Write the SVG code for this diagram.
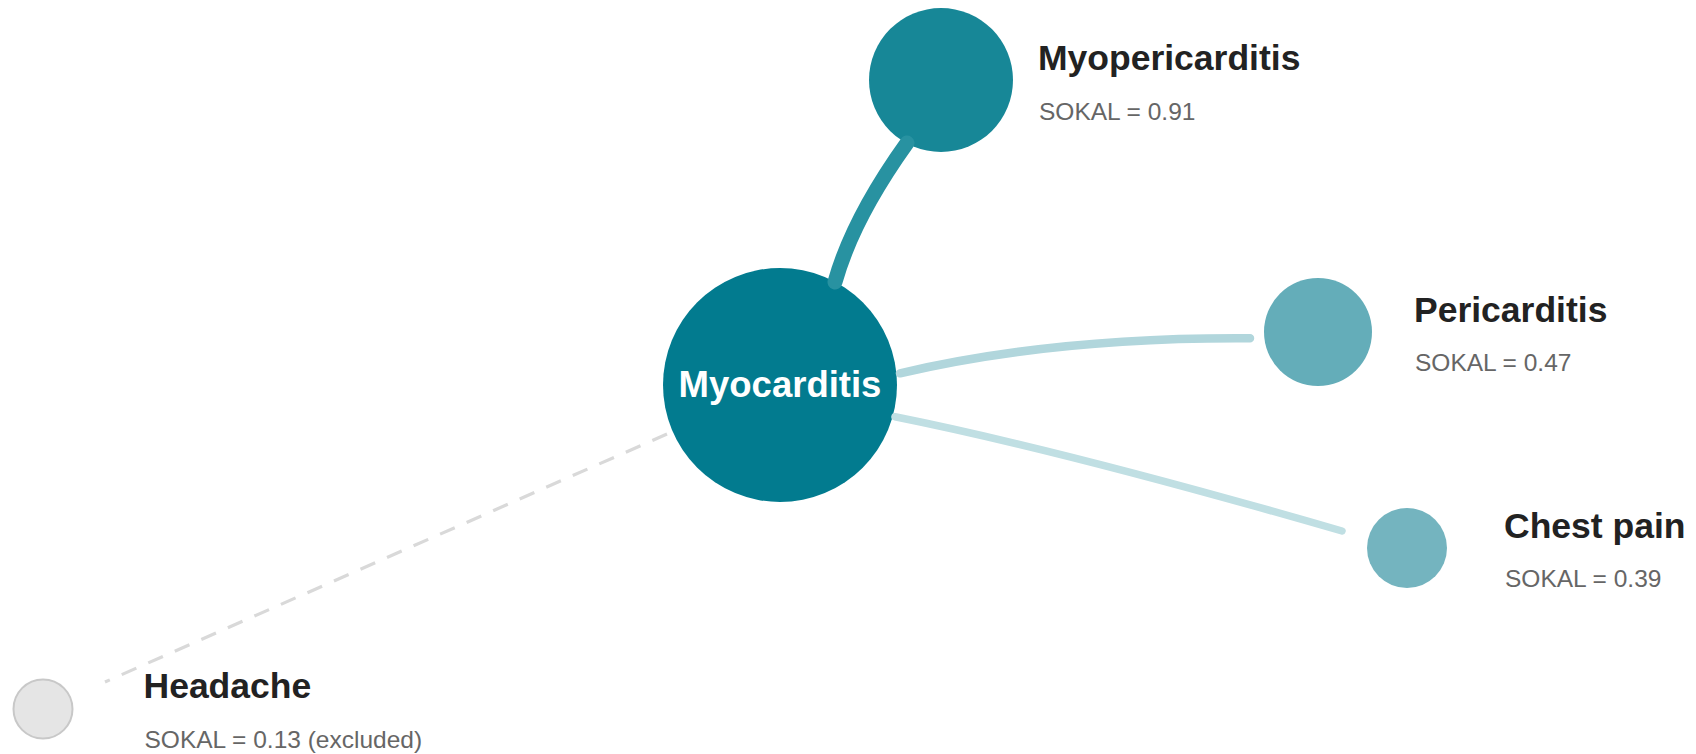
<svg xmlns="http://www.w3.org/2000/svg" width="1696" height="754" viewBox="0 0 1696 754">
  <style>
    .title { font-family: "Liberation Sans", Arial, sans-serif; font-weight: bold; font-size: 35.5px; fill: #222222; }
    .score { font-family: "Liberation Sans", Arial, sans-serif; font-size: 24.5px; fill: #666666; }
    .center-label { font-family: "Liberation Sans", Arial, sans-serif; font-weight: bold; font-size: 36.5px; fill: #ffffff; text-anchor: middle; }
    .edge { fill: none; stroke-linecap: round; }
  </style>
  <rect width="1696" height="754" fill="#ffffff"/>

  <g id="node-myocarditis">
    <circle cx="780" cy="385" r="117" fill="#027b8f"/>
    <text class="center-label" x="780" y="397">Myocarditis</text>
  </g>

  <g id="node-myopericarditis">
    <circle cx="941" cy="80" r="72" fill="#178797"/>
    <text class="title" x="1038" y="70">Myopericarditis</text>
    <text class="score" x="1039" y="120">SOKAL = 0.91</text>
  </g>

  <g id="node-pericarditis">
    <circle cx="1318" cy="332" r="54" fill="#64adb9"/>
    <text class="title" x="1414" y="322">Pericarditis</text>
    <text class="score" x="1415" y="371">SOKAL = 0.47</text>
  </g>

  <g id="node-chest-pain">
    <circle cx="1407" cy="548" r="40" fill="#74b4bf"/>
    <text class="title" x="1504" y="538">Chest pain</text>
    <text class="score" x="1505" y="587">SOKAL = 0.39</text>
  </g>

  <g id="node-headache">
    <circle cx="43" cy="709" r="29.5" fill="#e5e5e5" stroke="#c8c8c8" stroke-width="2"/>
    <text class="title" x="143.5" y="698">Headache</text>
    <text class="score" x="144.5" y="748">SOKAL = 0.13 (excluded)</text>
  </g>

  <g id="connectors">
    <path class="edge" d="M835,282 Q852.7,218.8 907,143" stroke="#2892a1" stroke-width="15"/>
    <path class="edge" d="M900,373.3 Q1055,337 1250,338.3" stroke="#b1d6dc" stroke-width="8.5"/>
    <path class="edge" d="M895,416.7 Q1065,450.8 1342,531" stroke="#c0dfe3" stroke-width="7.5"/>
    <path d="M667,434 L105,682" fill="none" stroke="#d9d9d9" stroke-width="3.2" stroke-dasharray="16 13"/>
  </g>
</svg>
